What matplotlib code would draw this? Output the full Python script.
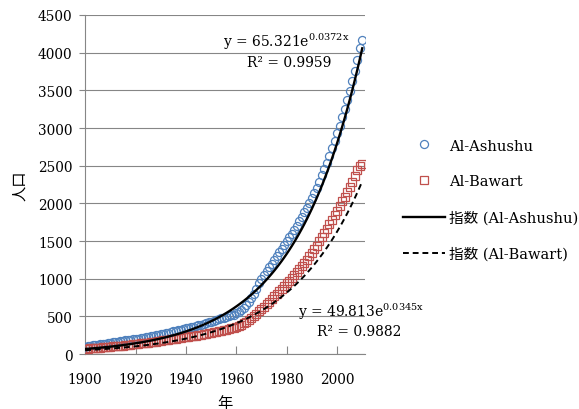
import numpy as np
import matplotlib
matplotlib.use('Agg')
import matplotlib.pyplot as plt

plt.rcParams['font.family'] = ['DejaVu Serif', 'Noto Sans CJK JP']
plt.rcParams['mathtext.fontset'] = 'custom'
plt.rcParams['mathtext.rm'] = 'DejaVu Serif'

# data
years = list(range(1900, 2011))

ashushu = [
    100, 105, 110, 115, 120, 125, 130, 135, 140, 145,
    150, 155, 160, 165, 170, 175, 180, 185, 190, 195,
    200, 205, 212, 218, 225, 232, 240, 246, 252, 258,
    265, 272, 279, 286, 293, 300, 308, 316, 324, 332,
    340, 348, 356, 365, 374, 383, 392, 402, 412, 422,
    432, 442, 452, 462, 472, 482, 492, 502, 512, 524,
    540, 560, 585, 615, 650, 690, 740, 800, 870, 940,
    1000, 1050, 1100, 1150, 1200, 1250, 1300, 1350, 1400, 1450,
    1500, 1550, 1600, 1650, 1705, 1760, 1820, 1880, 1940, 2000,
    2070, 2140, 2210, 2290, 2370, 2450, 2540, 2630, 2730, 2830,
    2930, 3030, 3140, 3250, 3370, 3490, 3620, 3760, 3900, 4060,
    4170,
]

bawart = [
    70, 72, 75, 78, 80, 83, 86, 89, 92, 95,
    98, 101, 104, 107, 110, 113, 117, 121, 125, 129,
    133, 137, 141, 145, 149, 153, 157, 161, 165, 170,
    175, 180, 185, 190, 195, 200, 205, 210, 215, 220,
    225, 230, 235, 240, 245, 250, 255, 261, 267, 273,
    280, 287, 294, 301, 308, 315, 323, 331, 340, 350,
    360, 375, 392, 410, 430, 452, 475, 500, 530, 565,
    600, 630, 660, 695, 730, 765, 800, 835, 870, 905,
    940, 975, 1010, 1050, 1090, 1130, 1170, 1210, 1250, 1295,
    1340, 1390, 1440, 1495, 1550, 1605, 1660, 1720, 1780, 1840,
    1900, 1960, 2025, 2090, 2155, 2220, 2290, 2360, 2440, 2500,
    2525,
]

# exponential trend coefficients shown on the chart (x = 1 for 1900)
fit_a = [65.321, 49.813]
fit_b = [0.0372, 0.0345]
fit_r2 = ['0.9959', '0.9882']

x_idx = np.arange(1, len(years) + 1)
trend_a = fit_a[0] * np.exp(fit_b[0] * x_idx)
trend_b = fit_a[1] * np.exp(fit_b[1] * x_idx)

fig = plt.figure(figsize=(5.79, 4.10), dpi=100)
ax = fig.add_axes([0.147, 0.134, 0.483, 0.827])

ax.plot(years, ashushu, 'o', ms=5.8, mfc='none', mec='#4f81bd', mew=0.9,
        label='Al-Ashushu', zorder=3)
ax.plot(years, bawart, 's', ms=5.2, mfc='none', mec='#c0504d', mew=0.9,
        label='Al-Bawart', zorder=3)
ax.plot(years, trend_a, '-', color='black', lw=1.7,
        label='指数 (Al-Ashushu)', zorder=4)
ax.plot(years, trend_b, '--', color='black', lw=1.4, dashes=(3, 2),
        label='指数 (Al-Bawart)', zorder=4)

ax.set_xlim(1900, 2011)
ax.set_ylim(0, 4500)
ax.set_xticks(range(1900, 2001, 20))
ax.set_yticks(range(0, 4501, 500))
ax.yaxis.grid(True, color='#868686', lw=0.8)
ax.set_axisbelow(True)
for s in ['top', 'right']:
    ax.spines[s].set_visible(False)
for s in ['left', 'bottom']:
    ax.spines[s].set_color('#868686')
ax.tick_params(axis='x', direction='in', length=6, pad=13, color='#868686',
               labelsize=9.8)
ax.tick_params(axis='y', direction='out', length=4, pad=5, color='#868686',
               labelsize=9.8)

ax.set_xlabel('年', fontsize=11, labelpad=7)
ax.set_ylabel('人口', fontsize=11, labelpad=8)

ax.text(2005, 4160, r'y = %.3fe$^{\mathrm{%s}}$' % (fit_a[0], '%.4fx' % fit_b[0]),
        ha='right', va='center', fontsize=10)
ax.text(1981, 3870, 'R² = %s' % fit_r2[0], ha='center', va='center', fontsize=10)
ax.text(1984.6, 570, r'y = %.3fe$^{\mathrm{%s}}$' % (fit_a[1], '%.4fx' % fit_b[1]),
        ha='left', va='center', fontsize=10, clip_on=False)
ax.text(2008.7, 305, 'R² = %s' % fit_r2[1], ha='center', va='center',
        fontsize=10, clip_on=False)

ax.legend(loc='center left', bbox_to_anchor=(1.09, 0.455), frameon=False,
          fontsize=10.5, handlelength=2.9, labelspacing=1.5, handletextpad=0.25)

fig.savefig('out.png', dpi=100)
